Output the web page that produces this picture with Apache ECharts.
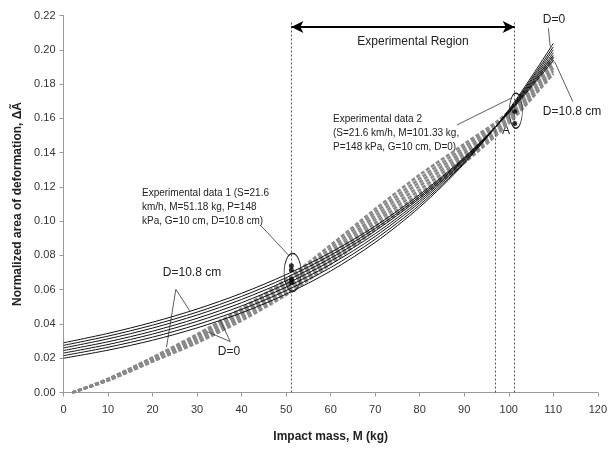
<!DOCTYPE html>
<html>
<head>
<meta charset="utf-8">
<script src="https://cdn.jsdelivr.net/npm/echarts@6/dist/echarts.min.js"></script>
<style>html,body{margin:0;padding:0;background:#fff}#c{width:610px;height:449px}</style>
</head>
<body>
<div id="c"></div>
<script>
// ---- data ----
const xTicks = [0,10,20,30,40,50,60,70,80,90,100,110,120];
const yTicks = [0,0.02,0.04,0.06,0.08,0.10,0.12,0.14,0.16,0.18,0.20,0.22];
const massSolid = [0,10,20,30,40,50,60,70,80,90,100,110];
const solidD0    = [0.0200,0.0247,0.0305,0.0377,0.0465,0.0574,0.0709,0.0876,0.1082,0.1336,0.1650,0.2037];
const solidD1_8  = [0.0215,0.0264,0.0323,0.0396,0.0485,0.0595,0.0729,0.0894,0.1095,0.1342,0.1645,0.2017];
const solidD3_6  = [0.0230,0.0280,0.0341,0.0415,0.0505,0.0615,0.0748,0.0911,0.1109,0.1349,0.1643,0.2000];
const solidD5_4  = [0.0245,0.0296,0.0358,0.0433,0.0524,0.0634,0.0767,0.0927,0.1121,0.1356,0.1640,0.1983];
const solidD7_2  = [0.0260,0.0313,0.0376,0.0452,0.0543,0.0652,0.0784,0.0943,0.1133,0.1362,0.1637,0.1968];
const solidD9_0  = [0.0275,0.0329,0.0393,0.0469,0.0561,0.0670,0.0801,0.0957,0.1144,0.1367,0.1634,0.1953];
const solidD10_8 = [0.0290,0.0345,0.0410,0.0487,0.0579,0.0688,0.0817,0.0971,0.1155,0.1372,0.1631,0.1938];
const massDashed = [2,10,20,30,40,50,60,70,80,90,100,110];
const dashedD0    = [0,0.0080,0.0205,0.0340,0.0490,0.0660,0.0860,0.1070,0.1270,0.1450,0.1640,0.1960];
const dashedD1_8  = [0,0.0078,0.0201,0.0332,0.0478,0.0645,0.0842,0.1050,0.1248,0.1432,0.1628,0.1943];
const dashedD3_6  = [0,0.0077,0.0197,0.0323,0.0467,0.0630,0.0823,0.1030,0.1227,0.1413,0.1617,0.1927];
const dashedD5_4  = [0,0.0075,0.0193,0.0315,0.0455,0.0615,0.0805,0.1010,0.1205,0.1395,0.1605,0.1910];
const dashedD7_2  = [0,0.0073,0.0188,0.0307,0.0443,0.0600,0.0787,0.0990,0.1183,0.1377,0.1593,0.1893];
const dashedD9_0  = [0,0.0072,0.0184,0.0298,0.0432,0.0585,0.0768,0.0970,0.1162,0.1358,0.1582,0.1877];
const dashedD10_8 = [0,0.0070,0.0180,0.0290,0.0420,0.0570,0.0750,0.0950,0.1140,0.1340,0.1570,0.1860];
const exp1Mass = 51.18;
const exp1Values = [0.074,0.0715,0.066,0.064];
const exp2Mass = 101.33;
const exp2Values = [0.164,0.157];
const regionBounds = [51.18, 101.33];
const pointAMass = 97;

// ---- build ----
const FONT = 'Liberation Sans, Arial, sans-serif';
const pair = (a, b) => a.map((v, i) => [v, b[i]]);
const solidSets = [solidD0, solidD1_8, solidD3_6, solidD5_4, solidD7_2, solidD9_0, solidD10_8];
const dashedSets = [dashedD0, dashedD1_8, dashedD3_6, dashedD5_4, dashedD7_2, dashedD9_0, dashedD10_8];

const series = [];
dashedSets.forEach((d, i) => series.push({
  type: 'line', name: 'dashed' + i, data: pair(massDashed, d), smooth: 0.3,
  symbol: 'none', silent: true, z: 2,
  lineStyle: { color: '#8a8a8a', width: 2.6, type: [4, 2] }
}));
solidSets.forEach((d, i) => series.push({
  type: 'line', name: 'solid' + i, data: pair(massSolid, d), smooth: 0.3,
  symbol: 'none', silent: true, z: 3,
  lineStyle: { color: '#111', width: 1 }
}));

const thin = { color: '#333', width: 0.8, type: 'solid' };
const seg = (a, b, style) => [{ coord: a, lineStyle: style }, { coord: b }];
const vdash = { color: '#555', width: 1, type: [2, 2] };

series.push({
  type: 'scatter', name: 'exp',
  data: exp1Values.map(v => [exp1Mass, v]).concat(exp2Values.map(v => [exp2Mass, v])),
  symbol: 'circle', symbolSize: 5, itemStyle: { color: '#000' }, z: 5, silent: true,
  markPoint: {
    silent: true, label: { show: false },
    itemStyle: { color: 'rgba(0,0,0,0)', borderColor: '#222', borderWidth: 1 },
    data: [
      { coord: [51.45, 0.0700], symbol: 'circle', symbolSize: [17, 38] },
      { coord: [101.6, 0.1644], symbol: 'circle', symbolSize: [13, 35] }
    ]
  },
  markLine: {
    silent: true, symbol: 'none', label: { show: false }, animation: false,
    data: [
      seg([regionBounds[0], 0], [regionBounds[0], 0.217], vdash),
      seg([pointAMass, 0], [pointAMass, 0.155], vdash),
      seg([regionBounds[1], 0], [regionBounds[1], 0.217], vdash),
      seg([44.17, 0.0978], [50.70, 0.0797], thin),
      seg([88.34, 0.1561], [100.61, 0.1719], thin),
      seg([25.23, 0.0602], [28.35, 0.0477], thin),
      seg([25.23, 0.0602], [23.13, 0.0264], thin),
      seg([37.45, 0.0297], [32.26, 0.0355], thin),
      seg([37.45, 0.0297], [35.10, 0.0427], thin),
      seg([108.9, 0.2126], [109.3, 0.2018], thin),
      seg([114.4, 0.1697], [110.3, 0.1931], thin)
    ]
  }
});
series.push({
  type: 'line', name: 'arrow', data: [], silent: true,
  markLine: {
    silent: true, symbol: ['arrow', 'arrow'], symbolSize: [9, 12], label: { show: false }, animation: false,
    lineStyle: { color: '#000', width: 2, type: 'solid' },
    data: [[{ coord: [regionBounds[0], 0.2133] }, { coord: [regionBounds[1], 0.2133] }]]
  }
});

const txt = (x, y, s, size, align, extra) => Object.assign({
  type: 'text', x: x, y: y, silent: true,
  style: { text: s, font: size + 'px ' + FONT, fill: '#222', textAlign: align || 'center', textVerticalAlign: 'middle' }
}, extra || {});

const chart = echarts.init(document.getElementById('c'), null, { renderer: 'canvas' });
chart.setOption({
  animation: false,
  backgroundColor: '#fff',
  grid: { left: 63.5, right: 8, top: 15.5, bottom: 56.5 },
  xAxis: {
    type: 'value', min: xTicks[0], max: xTicks[xTicks.length - 1], interval: 10,
    name: 'Impact mass, M (kg)', nameLocation: 'middle', nameGap: 38,
    nameTextStyle: { fontFamily: FONT, fontSize: 12, fontWeight: 'bold', color: '#222' },
    axisLine: { lineStyle: { color: '#9a9a9a' } },
    axisTick: { show: true, length: 4, lineStyle: { color: '#9a9a9a' } },
    axisLabel: { fontFamily: FONT, fontSize: 11, color: '#333', margin: 12 },
    splitLine: { show: false }
  },
  yAxis: {
    type: 'value', min: yTicks[0], max: yTicks[yTicks.length - 1], interval: 0.02,
    name: 'Normalized area of deformation, ΔÃ', nameLocation: 'middle', nameGap: 40,
    nameTextStyle: { fontFamily: FONT, fontSize: 12, fontWeight: 'bold', color: '#222' },
    axisLine: { show: true, lineStyle: { color: '#9a9a9a' } },
    axisTick: { show: true, length: 4, lineStyle: { color: '#9a9a9a' } },
    axisLabel: { fontFamily: FONT, fontSize: 11, color: '#333', margin: 8, formatter: v => v.toFixed(2) },
    splitLine: { show: false }
  },
  series: series,
  graphic: [
    txt(413, 42, 'Experimental Region', 12),
    txt(142, 186, 'Experimental data 1 (S=21.6\nkm/h, M=51.18 kg, P=148\nkPa, G=10 cm, D=10.8 cm)', 10, 'left', {}),
    txt(333, 112, 'Experimental data 2\n(S=21.6 km/h, M=101.33 kg,\nP=148 kPa, G=10 cm, D=0)', 10, 'left', {}),
    txt(506, 131, 'A', 12),
    txt(192, 273, 'D=10.8 cm', 12),
    txt(229, 352, 'D=0', 12),
    txt(554, 20, 'D=0', 12),
    txt(572, 112, 'D=10.8 cm', 12)
  ].map(g => {
    if (g.style.textAlign === 'left') { g.style.textVerticalAlign = 'top'; g.style.lineHeight = 14; }
    return g;
  })
});
</script>
</body>
</html>
